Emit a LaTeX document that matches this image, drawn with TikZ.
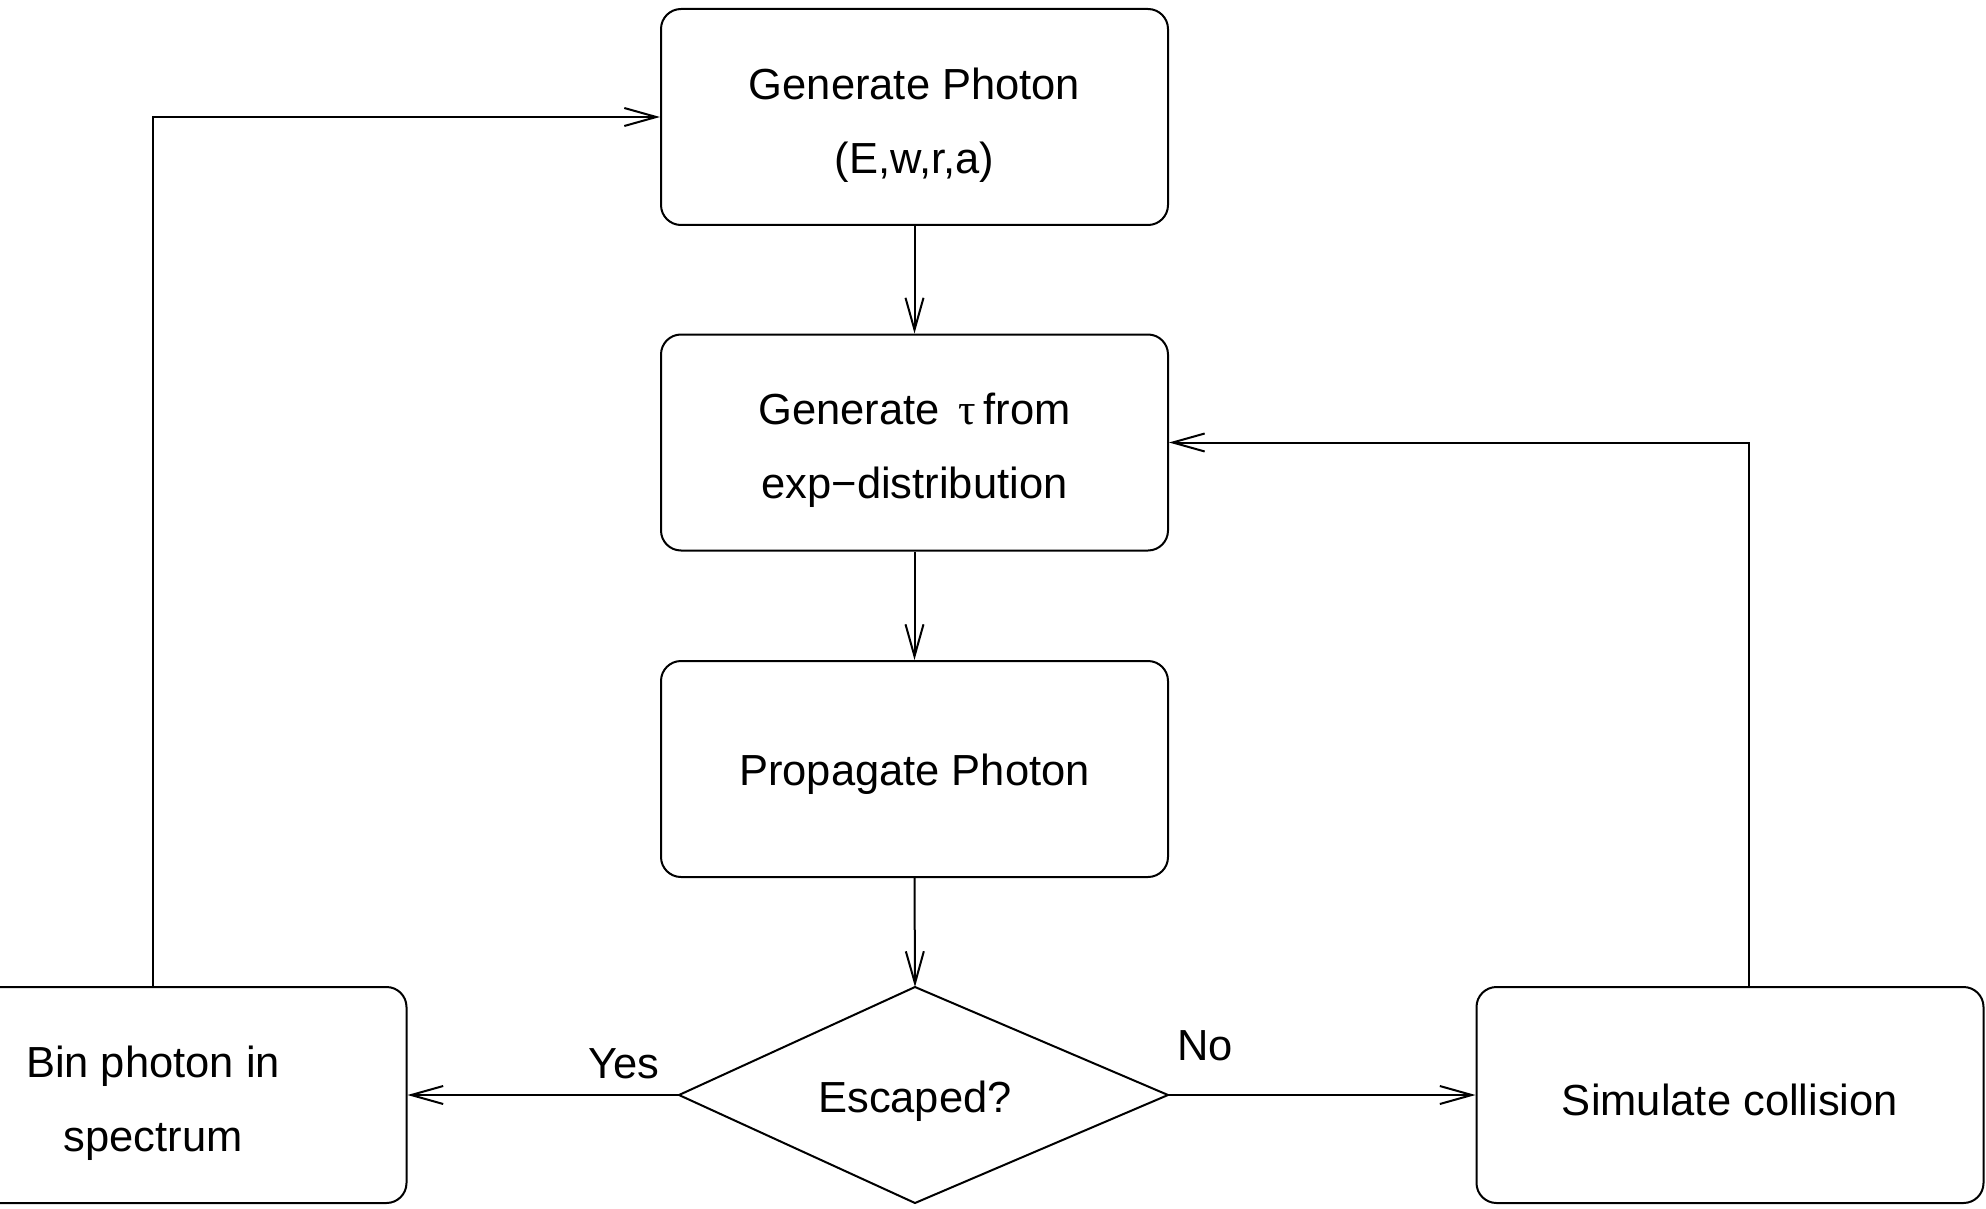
\documentclass[tikz,border=0pt]{standalone}
\usepackage{fontspec}
\setmainfont{Liberation Sans}
\newfontfamily\grkfont{Liberation Serif}
\usetikzlibrary{arrows.meta}
\begin{document}
\begin{tikzpicture}[x=1pt,y=-1pt,
  every node/.style={font=\fontsize{43.5}{74}\selectfont},
  procbox/.style={draw,line width=2pt,rounded corners=20pt,minimum width=507pt,minimum height=216pt,inner sep=0pt},
  txt/.style={align=center,inner sep=0pt},
  outline/.style={line width=2pt,line join=miter},
  arr/.style={line width=2pt,-{Straight Barb[length=32pt,width=18pt]}},
  lbl/.style={inner sep=0pt}]
\useasboundingbox (0,0) rectangle (1986,1209);
% boxes
\node[procbox] (gen) at (914.5,117) {};
\node[procbox] (tau) at (914.5,442.5) {};
\node[procbox] (prop) at (914.5,769) {};
\node[procbox] (bin) at (153,1095) {};
\node[procbox] (sim) at (1730,1095) {};
% decision diamond
\coordinate (dt) at (915,987);
\coordinate (dr) at (1168,1095);
\coordinate (db) at (915,1203);
\coordinate (dl) at (679,1095);
\draw[outline] (dt) -- (dr) -- (db) -- (dl) -- cycle;
% texts
\node[txt] (gentxt) at ([yshift=-8pt]gen.center) {Generate Photon\\(E,w,r,a)};
\node[txt] (tautxt) at ([yshift=-8pt]tau.center) {Generate \,{\grkfont τ}\,from\\exp−distribution};
\node[txt] (proptxt) at ([yshift=-5pt]prop.center) {Propagate Photon};
\node[txt] (esc) at (915,1101) {Escaped?};
\node[txt] (bintxt) at ([yshift=-8pt]bin.center) {Bin photon in\\spectrum};
\node[txt] (simtxt) at ([yshift=-5pt]sim.center) {Simulate collision};
\node[lbl] (yes) at (624,1064) {Yes};
\node[lbl] (no) at (1205,1046) {No};
% connectors
\draw[arr] (gen.south) -- (tau.north);
\draw[arr] (tau.south) -- (prop.north);
\draw[arr] (prop.south) -- (dt);
\draw[arr] (dl) -- (bin.east);
\draw[arr] (dr) -- (sim.west);
\draw[arr] (bin.north) |- (gen.west);
\coordinate (simtop) at ([xshift=19pt]sim.north);
\draw[arr] (simtop) |- (tau.east);
\end{tikzpicture}
\end{document}
